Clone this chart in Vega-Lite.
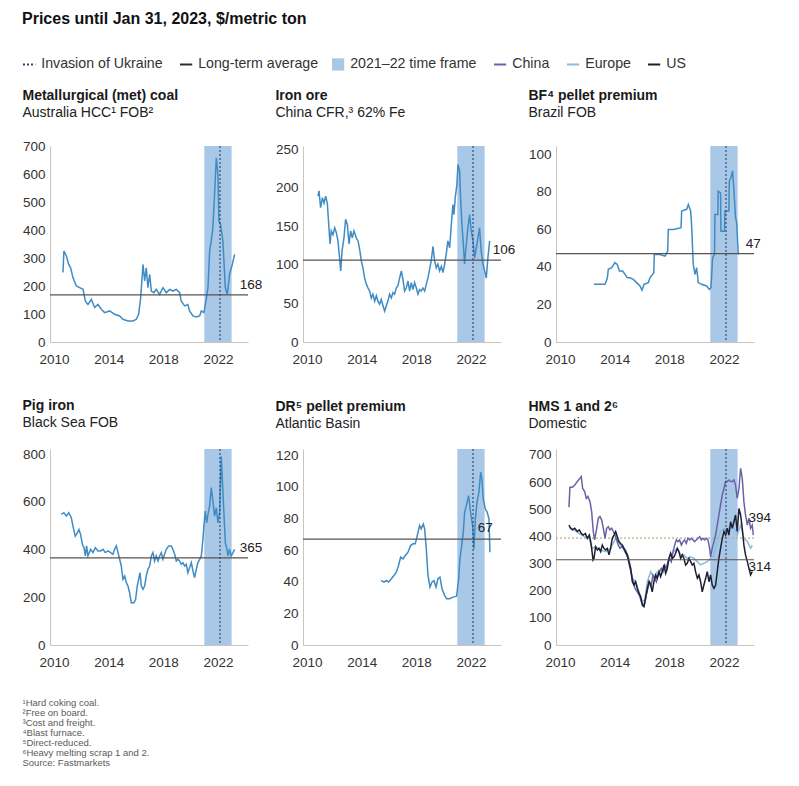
{
  "$schema": "https://vega.github.io/schema/vega-lite/v6.json",
  "padding": {"left": 22, "top": 11, "right": 8, "bottom": 6},
  "background": "white",
  "title": {
    "text": "Prices until Jan 31, 2023, $/metric ton",
    "fontSize": 16, "fontWeight": "bold", "anchor": "start", "offset": 30, "color": "#111", "font": "Liberation Sans"
  },
  "datasets": {
    "shade": [{"start": 2021, "end": 2023}],
    "inv": [{"t": 2022.15}],
    "coal": [
      {"t":2010.65,"v":248},{"t":2010.72,"v":325},{"t":2010.90,"v":307},{"t":2011.07,"v":277},{"t":2011.21,"v":265},{"t":2011.38,"v":230},{"t":2011.63,"v":200},{"t":2011.87,"v":194},{"t":2012.12,"v":188},{"t":2012.29,"v":146},{"t":2012.48,"v":134},{"t":2012.73,"v":152},{"t":2012.97,"v":123},{"t":2013.21,"v":134},{"t":2013.46,"v":117},{"t":2013.70,"v":105},{"t":2014.07,"v":111},{"t":2014.43,"v":99},{"t":2014.80,"v":93},{"t":2015.04,"v":81},{"t":2015.41,"v":75},{"t":2015.78,"v":75},{"t":2016.02,"v":81},{"t":2016.19,"v":99},{"t":2016.34,"v":158},{"t":2016.51,"v":277},{"t":2016.63,"v":218},{"t":2016.75,"v":265},{"t":2016.87,"v":194},{"t":2017.00,"v":242},{"t":2017.12,"v":182},{"t":2017.31,"v":176},{"t":2017.48,"v":188},{"t":2017.73,"v":170},{"t":2017.97,"v":194},{"t":2018.22,"v":176},{"t":2018.46,"v":188},{"t":2018.70,"v":182},{"t":2018.95,"v":188},{"t":2019.19,"v":176},{"t":2019.31,"v":146},{"t":2019.56,"v":129},{"t":2019.80,"v":134},{"t":2019.92,"v":111},{"t":2020.17,"v":93},{"t":2020.41,"v":89},{"t":2020.66,"v":93},{"t":2020.78,"v":111},{"t":2020.97,"v":105},{"t":2021.14,"v":152},{"t":2021.27,"v":194},{"t":2021.39,"v":325},{"t":2021.51,"v":361},{"t":2021.63,"v":408},{"t":2021.75,"v":527},{"t":2021.88,"v":658},{"t":2022.00,"v":598},{"t":2022.07,"v":432},{"t":2022.19,"v":420},{"t":2022.36,"v":361},{"t":2022.54,"v":194},{"t":2022.68,"v":170},{"t":2022.85,"v":242},{"t":2023.02,"v":271},{"t":2023.22,"v":313}
    ],
    "ore": [
      {"t":2010.80,"v":189},{"t":2010.87,"v":196},{"t":2010.99,"v":174},{"t":2011.12,"v":187},{"t":2011.24,"v":180},{"t":2011.36,"v":189},{"t":2011.48,"v":180},{"t":2011.60,"v":148},{"t":2011.68,"v":127},{"t":2011.77,"v":144},{"t":2011.90,"v":139},{"t":2012.02,"v":148},{"t":2012.14,"v":142},{"t":2012.26,"v":131},{"t":2012.38,"v":109},{"t":2012.46,"v":92},{"t":2012.56,"v":118},{"t":2012.70,"v":135},{"t":2012.82,"v":159},{"t":2012.95,"v":152},{"t":2013.07,"v":127},{"t":2013.19,"v":144},{"t":2013.31,"v":135},{"t":2013.43,"v":144},{"t":2013.60,"v":135},{"t":2013.73,"v":131},{"t":2013.85,"v":120},{"t":2013.97,"v":105},{"t":2014.09,"v":96},{"t":2014.21,"v":83},{"t":2014.34,"v":75},{"t":2014.46,"v":70},{"t":2014.58,"v":66},{"t":2014.70,"v":57},{"t":2014.82,"v":62},{"t":2014.95,"v":53},{"t":2015.07,"v":60},{"t":2015.19,"v":53},{"t":2015.31,"v":49},{"t":2015.43,"v":55},{"t":2015.56,"v":47},{"t":2015.68,"v":40},{"t":2015.80,"v":47},{"t":2015.92,"v":53},{"t":2016.04,"v":62},{"t":2016.17,"v":57},{"t":2016.29,"v":64},{"t":2016.41,"v":62},{"t":2016.53,"v":70},{"t":2016.65,"v":73},{"t":2016.78,"v":83},{"t":2016.90,"v":92},{"t":2017.02,"v":81},{"t":2017.14,"v":66},{"t":2017.26,"v":70},{"t":2017.39,"v":79},{"t":2017.51,"v":66},{"t":2017.63,"v":77},{"t":2017.75,"v":68},{"t":2017.87,"v":77},{"t":2018.00,"v":70},{"t":2018.12,"v":62},{"t":2018.24,"v":68},{"t":2018.36,"v":66},{"t":2018.48,"v":70},{"t":2018.61,"v":66},{"t":2018.73,"v":75},{"t":2018.85,"v":83},{"t":2018.97,"v":94},{"t":2019.09,"v":105},{"t":2019.22,"v":124},{"t":2019.34,"v":105},{"t":2019.46,"v":96},{"t":2019.58,"v":101},{"t":2019.70,"v":92},{"t":2019.83,"v":98},{"t":2019.95,"v":90},{"t":2020.07,"v":101},{"t":2020.19,"v":114},{"t":2020.31,"v":131},{"t":2020.44,"v":122},{"t":2020.56,"v":152},{"t":2020.68,"v":178},{"t":2020.75,"v":165},{"t":2020.85,"v":187},{"t":2020.97,"v":204},{"t":2021.05,"v":230},{"t":2021.17,"v":222},{"t":2021.24,"v":187},{"t":2021.34,"v":152},{"t":2021.46,"v":122},{"t":2021.53,"v":101},{"t":2021.66,"v":127},{"t":2021.78,"v":148},{"t":2021.90,"v":165},{"t":2022.02,"v":144},{"t":2022.15,"v":131},{"t":2022.27,"v":109},{"t":2022.39,"v":122},{"t":2022.51,"v":135},{"t":2022.63,"v":148},{"t":2022.75,"v":118},{"t":2022.88,"v":101},{"t":2023.00,"v":92},{"t":2023.12,"v":83},{"t":2023.24,"v":109},{"t":2023.37,"v":131}
    ],
    "bf": [
      {"t":2012.48,"v":30.7},{"t":2013.29,"v":30.7},{"t":2013.46,"v":34},{"t":2013.53,"v":38.7},{"t":2013.78,"v":39.5},{"t":2014.02,"v":42.2},{"t":2014.19,"v":41.3},{"t":2014.34,"v":37.8},{"t":2014.58,"v":37.8},{"t":2014.75,"v":36},{"t":2014.92,"v":34.2},{"t":2015.12,"v":34.2},{"t":2015.36,"v":33.3},{"t":2015.61,"v":31.6},{"t":2015.85,"v":29.8},{"t":2016.00,"v":27.5},{"t":2016.14,"v":30.7},{"t":2016.46,"v":31.6},{"t":2016.58,"v":34.2},{"t":2016.86,"v":36.9},{"t":2016.90,"v":46.6},{"t":2017.31,"v":46.6},{"t":2017.68,"v":45.7},{"t":2017.88,"v":48.4},{"t":2017.92,"v":59.9},{"t":2018.29,"v":59.9},{"t":2018.86,"v":60.8},{"t":2018.90,"v":69.7},{"t":2019.27,"v":70.6},{"t":2019.39,"v":73.2},{"t":2019.56,"v":69.7},{"t":2019.63,"v":62.6},{"t":2019.75,"v":41.3},{"t":2019.88,"v":36},{"t":2020.00,"v":39.5},{"t":2020.12,"v":31.6},{"t":2020.36,"v":30.7},{"t":2020.73,"v":29.8},{"t":2020.93,"v":28},{"t":2021.05,"v":28.9},{"t":2021.17,"v":44.9},{"t":2021.31,"v":46.6},{"t":2021.34,"v":67.9},{"t":2021.55,"v":67.9},{"t":2021.58,"v":80.3},{"t":2021.75,"v":79.4},{"t":2021.78,"v":59},{"t":2022.04,"v":59},{"t":2022.07,"v":69.7},{"t":2022.36,"v":69.7},{"t":2022.39,"v":85.6},{"t":2022.51,"v":87.4},{"t":2022.63,"v":91},{"t":2022.73,"v":80.3},{"t":2022.85,"v":66.1},{"t":2022.93,"v":63.5},{"t":2023.05,"v":46.6}
    ],
    "pig": [
      {"t":2010.53,"v":547},{"t":2010.72,"v":554},{"t":2010.90,"v":540},{"t":2011.07,"v":554},{"t":2011.26,"v":533},{"t":2011.38,"v":498},{"t":2011.55,"v":456},{"t":2011.70,"v":470},{"t":2011.82,"v":484},{"t":2011.94,"v":463},{"t":2012.07,"v":422},{"t":2012.19,"v":408},{"t":2012.29,"v":373},{"t":2012.38,"v":415},{"t":2012.48,"v":373},{"t":2012.68,"v":401},{"t":2012.85,"v":387},{"t":2013.02,"v":408},{"t":2013.21,"v":394},{"t":2013.41,"v":394},{"t":2013.58,"v":401},{"t":2013.75,"v":387},{"t":2013.95,"v":394},{"t":2014.14,"v":387},{"t":2014.31,"v":380},{"t":2014.43,"v":401},{"t":2014.56,"v":415},{"t":2014.68,"v":387},{"t":2014.80,"v":359},{"t":2014.92,"v":331},{"t":2015.04,"v":275},{"t":2015.17,"v":289},{"t":2015.29,"v":261},{"t":2015.41,"v":247},{"t":2015.53,"v":219},{"t":2015.65,"v":177},{"t":2015.85,"v":177},{"t":2015.97,"v":191},{"t":2016.09,"v":247},{"t":2016.19,"v":275},{"t":2016.29,"v":303},{"t":2016.39,"v":247},{"t":2016.51,"v":233},{"t":2016.63,"v":247},{"t":2016.75,"v":289},{"t":2016.87,"v":317},{"t":2017.00,"v":331},{"t":2017.12,"v":373},{"t":2017.24,"v":387},{"t":2017.36,"v":352},{"t":2017.48,"v":373},{"t":2017.61,"v":352},{"t":2017.73,"v":373},{"t":2017.85,"v":387},{"t":2017.97,"v":359},{"t":2018.09,"v":380},{"t":2018.22,"v":401},{"t":2018.39,"v":415},{"t":2018.58,"v":415},{"t":2018.70,"v":401},{"t":2018.83,"v":380},{"t":2018.95,"v":352},{"t":2019.07,"v":359},{"t":2019.19,"v":352},{"t":2019.31,"v":338},{"t":2019.44,"v":345},{"t":2019.56,"v":331},{"t":2019.68,"v":338},{"t":2019.80,"v":303},{"t":2019.92,"v":324},{"t":2020.05,"v":345},{"t":2020.17,"v":310},{"t":2020.29,"v":282},{"t":2020.41,"v":317},{"t":2020.53,"v":345},{"t":2020.66,"v":359},{"t":2020.78,"v":373},{"t":2020.90,"v":443},{"t":2020.97,"v":498},{"t":2021.07,"v":561},{"t":2021.17,"v":512},{"t":2021.27,"v":547},{"t":2021.39,"v":582},{"t":2021.51,"v":659},{"t":2021.63,"v":603},{"t":2021.75,"v":540},{"t":2021.88,"v":575},{"t":2022.00,"v":512},{"t":2022.12,"v":554},{"t":2022.24,"v":790},{"t":2022.41,"v":582},{"t":2022.54,"v":429},{"t":2022.66,"v":401},{"t":2022.73,"v":373},{"t":2022.85,"v":401},{"t":2022.97,"v":373},{"t":2023.10,"v":387},{"t":2023.22,"v":401}
    ],
    "dr": [
      {"t":2015.43,"v":40.8},{"t":2015.63,"v":39.8},{"t":2015.80,"v":40.8},{"t":2015.97,"v":39.8},{"t":2016.17,"v":41.9},{"t":2016.36,"v":44},{"t":2016.53,"v":46.1},{"t":2016.70,"v":50.3},{"t":2016.85,"v":55.6},{"t":2017.02,"v":54.5},{"t":2017.19,"v":56.6},{"t":2017.39,"v":58.7},{"t":2017.58,"v":62.9},{"t":2017.75,"v":64},{"t":2017.92,"v":64},{"t":2018.07,"v":69.3},{"t":2018.24,"v":75.6},{"t":2018.36,"v":73.5},{"t":2018.51,"v":76.6},{"t":2018.61,"v":73.5},{"t":2018.73,"v":60.8},{"t":2018.85,"v":44},{"t":2019.00,"v":36.6},{"t":2019.14,"v":39.8},{"t":2019.29,"v":40.8},{"t":2019.44,"v":36.6},{"t":2019.58,"v":41.9},{"t":2019.73,"v":42.9},{"t":2019.88,"v":35.6},{"t":2020.07,"v":31.4},{"t":2020.22,"v":29.3},{"t":2020.44,"v":29.3},{"t":2020.68,"v":30.3},{"t":2020.95,"v":30.9},{"t":2021.10,"v":41.9},{"t":2021.19,"v":54.5},{"t":2021.29,"v":60.8},{"t":2021.44,"v":71.4},{"t":2021.54,"v":84},{"t":2021.66,"v":88.2},{"t":2021.83,"v":94.5},{"t":2021.97,"v":84},{"t":2022.12,"v":75.6},{"t":2022.22,"v":60.8},{"t":2022.32,"v":79.8},{"t":2022.44,"v":90.3},{"t":2022.58,"v":96.6},{"t":2022.71,"v":109.3},{"t":2022.80,"v":105},{"t":2022.90,"v":92.4},{"t":2023.05,"v":86.1},{"t":2023.19,"v":84},{"t":2023.32,"v":79.8},{"t":2023.39,"v":58.7}
    ],
    "hms": [
      {"series":"Europe","t":2010.65,"v":436},{"series":"Europe","t":2011.02,"v":424},{"series":"Europe","t":2011.38,"v":411},{"series":"Europe","t":2011.75,"v":399},{"series":"Europe","t":2012.12,"v":393},{"series":"Europe","t":2012.36,"v":356},{"series":"Europe","t":2012.60,"v":362},{"series":"Europe","t":2012.97,"v":350},{"series":"Europe","t":2013.34,"v":344},{"series":"Europe","t":2013.70,"v":356},{"series":"Europe","t":2014.07,"v":393},{"series":"Europe","t":2014.43,"v":368},{"series":"Europe","t":2014.80,"v":350},{"series":"Europe","t":2015.04,"v":319},{"series":"Europe","t":2015.29,"v":246},{"series":"Europe","t":2015.53,"v":233},{"series":"Europe","t":2015.78,"v":196},{"series":"Europe","t":2016.02,"v":160},{"series":"Europe","t":2016.19,"v":166},{"series":"Europe","t":2016.39,"v":233},{"series":"Europe","t":2016.63,"v":270},{"series":"Europe","t":2016.87,"v":246},{"series":"Europe","t":2017.12,"v":270},{"series":"Europe","t":2017.36,"v":258},{"series":"Europe","t":2017.61,"v":282},{"series":"Europe","t":2017.85,"v":295},{"series":"Europe","t":2018.09,"v":332},{"series":"Europe","t":2018.34,"v":344},{"series":"Europe","t":2018.58,"v":356},{"series":"Europe","t":2018.83,"v":332},{"series":"Europe","t":2019.07,"v":332},{"series":"Europe","t":2019.31,"v":319},{"series":"Europe","t":2019.56,"v":325},{"series":"Europe","t":2019.80,"v":319},{"series":"Europe","t":2020.05,"v":307},{"series":"Europe","t":2020.29,"v":295},{"series":"Europe","t":2020.53,"v":301},{"series":"Europe","t":2020.78,"v":307},{"series":"Europe","t":2021.02,"v":319},{"series":"Europe","t":2021.27,"v":332},{"series":"Europe","t":2021.51,"v":381},{"series":"Europe","t":2021.75,"v":418},{"series":"Europe","t":2022.00,"v":430},{"series":"Europe","t":2022.24,"v":418},{"series":"Europe","t":2022.49,"v":442},{"series":"Europe","t":2022.73,"v":430},{"series":"Europe","t":2022.97,"v":405},{"series":"Europe","t":2023.22,"v":442},{"series":"Europe","t":2023.46,"v":393},{"series":"Europe","t":2023.71,"v":381},{"series":"Europe","t":2023.95,"v":356},{"series":"Europe","t":2024.07,"v":368},
      {"series":"China","t":2010.65,"v":508},{"series":"China","t":2010.72,"v":581},{"series":"China","t":2010.90,"v":581},{"series":"China","t":2011.07,"v":589},{"series":"China","t":2011.26,"v":602},{"series":"China","t":2011.46,"v":614},{"series":"China","t":2011.55,"v":620},{"series":"China","t":2011.65,"v":577},{"series":"China","t":2011.80,"v":565},{"series":"China","t":2011.92,"v":540},{"series":"China","t":2012.04,"v":547},{"series":"China","t":2012.19,"v":528},{"series":"China","t":2012.31,"v":491},{"series":"China","t":2012.43,"v":418},{"series":"China","t":2012.53,"v":387},{"series":"China","t":2012.68,"v":430},{"series":"China","t":2012.80,"v":467},{"series":"China","t":2012.92,"v":473},{"series":"China","t":2013.04,"v":461},{"series":"China","t":2013.17,"v":430},{"series":"China","t":2013.29,"v":393},{"series":"China","t":2013.41,"v":430},{"series":"China","t":2013.53,"v":436},{"series":"China","t":2013.65,"v":424},{"series":"China","t":2013.78,"v":430},{"series":"China","t":2013.90,"v":418},{"series":"China","t":2014.02,"v":405},{"series":"China","t":2014.14,"v":387},{"series":"China","t":2014.26,"v":368},{"series":"China","t":2014.39,"v":356},{"series":"China","t":2014.51,"v":362},{"series":"China","t":2014.63,"v":356},{"series":"China","t":2014.75,"v":344},{"series":"China","t":2014.87,"v":332},{"series":"China","t":2014.97,"v":319},{"series":"China","t":2015.12,"v":282},{"series":"China","t":2015.24,"v":258},{"series":"China","t":2015.36,"v":233},{"series":"China","t":2015.48,"v":209},{"series":"China","t":2015.65,"v":196},{"series":"China","t":2015.80,"v":184},{"series":"China","t":2015.95,"v":160},{"series":"China","t":2016.07,"v":147},{"series":"China","t":2016.19,"v":153},{"series":"China","t":2016.31,"v":184},{"series":"China","t":2016.43,"v":209},{"series":"China","t":2016.56,"v":233},{"series":"China","t":2016.68,"v":221},{"series":"China","t":2016.80,"v":258},{"series":"China","t":2016.92,"v":246},{"series":"China","t":2017.05,"v":233},{"series":"China","t":2017.17,"v":258},{"series":"China","t":2017.29,"v":270},{"series":"China","t":2017.41,"v":282},{"series":"China","t":2017.53,"v":270},{"series":"China","t":2017.65,"v":295},{"series":"China","t":2017.78,"v":282},{"series":"China","t":2017.90,"v":307},{"series":"China","t":2018.02,"v":319},{"series":"China","t":2018.14,"v":307},{"series":"China","t":2018.27,"v":344},{"series":"China","t":2018.39,"v":368},{"series":"China","t":2018.51,"v":387},{"series":"China","t":2018.63,"v":381},{"series":"China","t":2018.75,"v":387},{"series":"China","t":2018.88,"v":368},{"series":"China","t":2019.00,"v":381},{"series":"China","t":2019.12,"v":387},{"series":"China","t":2019.24,"v":374},{"series":"China","t":2019.36,"v":393},{"series":"China","t":2019.49,"v":387},{"series":"China","t":2019.61,"v":393},{"series":"China","t":2019.73,"v":387},{"series":"China","t":2019.85,"v":381},{"series":"China","t":2019.97,"v":387},{"series":"China","t":2020.10,"v":393},{"series":"China","t":2020.22,"v":399},{"series":"China","t":2020.34,"v":387},{"series":"China","t":2020.46,"v":393},{"series":"China","t":2020.58,"v":387},{"series":"China","t":2020.71,"v":393},{"series":"China","t":2020.83,"v":387},{"series":"China","t":2020.95,"v":356},{"series":"China","t":2021.02,"v":325},{"series":"China","t":2021.14,"v":356},{"series":"China","t":2021.27,"v":381},{"series":"China","t":2021.39,"v":405},{"series":"China","t":2021.51,"v":442},{"series":"China","t":2021.63,"v":479},{"series":"China","t":2021.75,"v":516},{"series":"China","t":2021.88,"v":553},{"series":"China","t":2022.00,"v":577},{"series":"China","t":2022.12,"v":602},{"series":"China","t":2022.24,"v":602},{"series":"China","t":2022.36,"v":608},{"series":"China","t":2022.49,"v":602},{"series":"China","t":2022.61,"v":602},{"series":"China","t":2022.73,"v":608},{"series":"China","t":2022.85,"v":589},{"series":"China","t":2022.97,"v":540},{"series":"China","t":2023.10,"v":577},{"series":"China","t":2023.22,"v":651},{"series":"China","t":2023.34,"v":614},{"series":"China","t":2023.46,"v":528},{"series":"China","t":2023.58,"v":479},{"series":"China","t":2023.71,"v":442},{"series":"China","t":2023.83,"v":467},{"series":"China","t":2023.95,"v":430},{"series":"China","t":2024.07,"v":442},{"series":"China","t":2024.15,"v":405},
      {"series":"US","t":2010.65,"v":442},{"series":"US","t":2010.77,"v":430},{"series":"US","t":2010.90,"v":424},{"series":"US","t":2011.07,"v":430},{"series":"US","t":2011.26,"v":418},{"series":"US","t":2011.41,"v":424},{"series":"US","t":2011.55,"v":411},{"series":"US","t":2011.70,"v":405},{"series":"US","t":2011.85,"v":411},{"series":"US","t":2011.99,"v":393},{"series":"US","t":2012.14,"v":405},{"series":"US","t":2012.24,"v":381},{"series":"US","t":2012.34,"v":344},{"series":"US","t":2012.41,"v":313},{"series":"US","t":2012.48,"v":319},{"series":"US","t":2012.60,"v":362},{"series":"US","t":2012.73,"v":350},{"series":"US","t":2012.85,"v":356},{"series":"US","t":2012.97,"v":344},{"series":"US","t":2013.09,"v":368},{"series":"US","t":2013.21,"v":356},{"series":"US","t":2013.34,"v":350},{"series":"US","t":2013.46,"v":356},{"series":"US","t":2013.58,"v":332},{"series":"US","t":2013.70,"v":356},{"series":"US","t":2013.82,"v":393},{"series":"US","t":2013.95,"v":405},{"series":"US","t":2014.07,"v":418},{"series":"US","t":2014.19,"v":399},{"series":"US","t":2014.31,"v":381},{"series":"US","t":2014.43,"v":374},{"series":"US","t":2014.56,"v":368},{"series":"US","t":2014.68,"v":356},{"series":"US","t":2014.80,"v":344},{"series":"US","t":2014.92,"v":332},{"series":"US","t":2015.04,"v":307},{"series":"US","t":2015.17,"v":282},{"series":"US","t":2015.29,"v":233},{"series":"US","t":2015.41,"v":221},{"series":"US","t":2015.53,"v":233},{"series":"US","t":2015.65,"v":209},{"series":"US","t":2015.78,"v":190},{"series":"US","t":2015.90,"v":178},{"series":"US","t":2016.02,"v":147},{"series":"US","t":2016.14,"v":141},{"series":"US","t":2016.26,"v":172},{"series":"US","t":2016.39,"v":209},{"series":"US","t":2016.51,"v":233},{"series":"US","t":2016.63,"v":221},{"series":"US","t":2016.75,"v":196},{"series":"US","t":2016.87,"v":233},{"series":"US","t":2017.00,"v":258},{"series":"US","t":2017.12,"v":246},{"series":"US","t":2017.24,"v":270},{"series":"US","t":2017.36,"v":252},{"series":"US","t":2017.48,"v":270},{"series":"US","t":2017.61,"v":295},{"series":"US","t":2017.73,"v":264},{"series":"US","t":2017.85,"v":282},{"series":"US","t":2017.97,"v":319},{"series":"US","t":2018.09,"v":338},{"series":"US","t":2018.22,"v":319},{"series":"US","t":2018.34,"v":325},{"series":"US","t":2018.46,"v":338},{"series":"US","t":2018.58,"v":356},{"series":"US","t":2018.70,"v":344},{"series":"US","t":2018.83,"v":319},{"series":"US","t":2018.95,"v":332},{"series":"US","t":2019.07,"v":319},{"series":"US","t":2019.19,"v":295},{"series":"US","t":2019.31,"v":301},{"series":"US","t":2019.44,"v":319},{"series":"US","t":2019.56,"v":307},{"series":"US","t":2019.68,"v":295},{"series":"US","t":2019.80,"v":301},{"series":"US","t":2019.92,"v":270},{"series":"US","t":2020.05,"v":246},{"series":"US","t":2020.17,"v":258},{"series":"US","t":2020.29,"v":233},{"series":"US","t":2020.41,"v":196},{"series":"US","t":2020.53,"v":221},{"series":"US","t":2020.66,"v":246},{"series":"US","t":2020.78,"v":270},{"series":"US","t":2020.90,"v":233},{"series":"US","t":2021.02,"v":258},{"series":"US","t":2021.14,"v":221},{"series":"US","t":2021.27,"v":209},{"series":"US","t":2021.39,"v":221},{"series":"US","t":2021.51,"v":270},{"series":"US","t":2021.63,"v":319},{"series":"US","t":2021.75,"v":356},{"series":"US","t":2021.88,"v":393},{"series":"US","t":2022.00,"v":418},{"series":"US","t":2022.12,"v":405},{"series":"US","t":2022.24,"v":430},{"series":"US","t":2022.36,"v":405},{"series":"US","t":2022.49,"v":454},{"series":"US","t":2022.61,"v":430},{"series":"US","t":2022.73,"v":454},{"series":"US","t":2022.85,"v":479},{"series":"US","t":2022.97,"v":418},{"series":"US","t":2023.10,"v":503},{"series":"US","t":2023.22,"v":479},{"series":"US","t":2023.34,"v":430},{"series":"US","t":2023.46,"v":368},{"series":"US","t":2023.58,"v":332},{"series":"US","t":2023.71,"v":307},{"series":"US","t":2023.83,"v":282},{"series":"US","t":2023.95,"v":258},{"series":"US","t":2024.07,"v":270}
    ]
  },
  "vconcat": [
    {
      "columns": 3,
      "bounds": "flush",
      "spacing": {"row": 107, "column": 55},
      "title": {
        "text": ["\u00b9Hard coking coal.", "\u00b2Free on board.", "\u00b3Cost and freight.", "\u2074Blast furnace.", "\u2075Direct-reduced.", "\u2076Heavy melting scrap 1 and 2.", "\u00a0Source: Fastmarkets"],
        "orient": "bottom", "anchor": "start", "fontSize": 9.5, "fontWeight": "normal", "color": "#5a5a5a", "lineHeight": 10, "offset": 29
      },
      "concat": [
        {
          "width": 198, "height": 196,
          "title": {"text": "Metallurgical (met) coal", "subtitle": "Australia HCC\u00b9 FOB\u00b2", "offset": 19},
          "layer": [
            {"data": {"name": "shade"}, "mark": {"type": "rect", "color": "#a9c8e7"},
             "encoding": {"x": {"field": "start", "type": "quantitative", "title": null, "scale": {"domain": [2009.7, 2024.2], "nice": false, "zero": false}, "axis": {"values": [2010, 2014, 2018, 2022], "format": "d"}}, "x2": {"field": "end"}}},
            {"data": {"name": "coal"}, "mark": {"type": "line", "color": "#3f8cc4", "strokeWidth": 1.5},
             "encoding": {"x": {"field": "t", "type": "quantitative", "title": null, "axis": {"values": [2010, 2014, 2018, 2022], "format": "d"}}, "y": {"field": "v", "type": "quantitative", "title": null, "scale": {"domain": [0, 700], "nice": false}, "axis": {"values": [0, 100, 200, 300, 400, 500, 600, 700]}}}},
            {"data": {"values": [{"v": 168}]}, "mark": {"type": "rule", "color": "#5a524c", "strokeWidth": 1.2}, "encoding": {"y": {"field": "v", "type": "quantitative", "title": null, "axis": {"values": [0, 100, 200, 300, 400, 500, 600, 700]}}}},
            {"data": {"name": "inv"}, "mark": {"type": "rule", "color": "#26406e", "strokeDash": [2, 2], "strokeWidth": 1.1}, "encoding": {"x": {"field": "t", "type": "quantitative", "title": null, "axis": {"values": [2010, 2014, 2018, 2022], "format": "d"}}}},
            {"data": {"values": [{"v": 168}]}, "mark": {"type": "text", "align": "left", "baseline": "bottom", "dy": -3, "fontSize": 13.5, "color": "#222"},
             "encoding": {"x": {"datum": 2023.6, "type": "quantitative", "axis": {"values": [2010, 2014, 2018, 2022], "format": "d"}}, "y": {"field": "v", "type": "quantitative", "title": null, "axis": {"values": [0, 100, 200, 300, 400, 500, 600, 700]}}, "text": {"field": "v"}}}
          ]
        },
        {
          "width": 198, "height": 196,
          "title": {"text": "Iron ore", "subtitle": "China CFR,\u00b3 62% Fe", "offset": 22},
          "layer": [
            {"data": {"name": "shade"}, "mark": {"type": "rect", "color": "#a9c8e7"},
             "encoding": {"x": {"field": "start", "type": "quantitative", "title": null, "scale": {"domain": [2009.7, 2024.2], "nice": false, "zero": false}, "axis": {"values": [2010, 2014, 2018, 2022], "format": "d"}}, "x2": {"field": "end"}}},
            {"data": {"name": "ore"}, "mark": {"type": "line", "color": "#3f8cc4", "strokeWidth": 1.5},
             "encoding": {"x": {"field": "t", "type": "quantitative", "title": null, "axis": {"values": [2010, 2014, 2018, 2022], "format": "d"}}, "y": {"field": "v", "type": "quantitative", "title": null, "scale": {"domain": [0, 254], "nice": false}, "axis": {"values": [0, 50, 100, 150, 200, 250]}}}},
            {"data": {"values": [{"v": 106}]}, "mark": {"type": "rule", "color": "#5a524c", "strokeWidth": 1.2}, "encoding": {"y": {"field": "v", "type": "quantitative", "title": null, "axis": {"values": [0, 50, 100, 150, 200, 250]}}}},
            {"data": {"name": "inv"}, "mark": {"type": "rule", "color": "#26406e", "strokeDash": [2, 2], "strokeWidth": 1.1}, "encoding": {"x": {"field": "t", "type": "quantitative", "title": null, "axis": {"values": [2010, 2014, 2018, 2022], "format": "d"}}}},
            {"data": {"values": [{"v": 106}]}, "mark": {"type": "text", "align": "left", "baseline": "bottom", "dy": -3, "fontSize": 13.5, "color": "#222"},
             "encoding": {"x": {"datum": 2023.6, "type": "quantitative", "axis": {"values": [2010, 2014, 2018, 2022], "format": "d"}}, "y": {"field": "v", "type": "quantitative", "title": null, "axis": {"values": [0, 50, 100, 150, 200, 250]}}, "text": {"field": "v"}}}
          ]
        },
        {
          "width": 198, "height": 196,
          "title": {"text": "BF\u2074 pellet premium", "subtitle": "Brazil FOB", "offset": 25},
          "layer": [
            {"data": {"name": "shade"}, "mark": {"type": "rect", "color": "#a9c8e7"},
             "encoding": {"x": {"field": "start", "type": "quantitative", "title": null, "scale": {"domain": [2009.7, 2024.2], "nice": false, "zero": false}, "axis": {"values": [2010, 2014, 2018, 2022], "format": "d"}}, "x2": {"field": "end"}}},
            {"data": {"name": "bf"}, "mark": {"type": "line", "color": "#3f8cc4", "strokeWidth": 1.5},
             "encoding": {"x": {"field": "t", "type": "quantitative", "title": null, "axis": {"values": [2010, 2014, 2018, 2022], "format": "d"}}, "y": {"field": "v", "type": "quantitative", "title": null, "scale": {"domain": [0, 104.3], "nice": false}, "axis": {"values": [0, 20, 40, 60, 80, 100]}}}},
            {"data": {"values": [{"v": 47}]}, "mark": {"type": "rule", "color": "#5a524c", "strokeWidth": 1.2}, "encoding": {"y": {"field": "v", "type": "quantitative", "title": null, "axis": {"values": [0, 20, 40, 60, 80, 100]}}}},
            {"data": {"name": "inv"}, "mark": {"type": "rule", "color": "#26406e", "strokeDash": [2, 2], "strokeWidth": 1.1}, "encoding": {"x": {"field": "t", "type": "quantitative", "title": null, "axis": {"values": [2010, 2014, 2018, 2022], "format": "d"}}}},
            {"data": {"values": [{"v": 47}]}, "mark": {"type": "text", "align": "left", "baseline": "bottom", "dy": -3, "fontSize": 13.5, "color": "#222"},
             "encoding": {"x": {"datum": 2023.6, "type": "quantitative", "axis": {"values": [2010, 2014, 2018, 2022], "format": "d"}}, "y": {"field": "v", "type": "quantitative", "title": null, "axis": {"values": [0, 20, 40, 60, 80, 100]}}, "text": {"field": "v"}}}
          ]
        },
        {
          "width": 198, "height": 196,
          "title": {"text": "Pig iron", "subtitle": "Black Sea FOB", "offset": 17},
          "layer": [
            {"data": {"name": "shade"}, "mark": {"type": "rect", "color": "#a9c8e7"},
             "encoding": {"x": {"field": "start", "type": "quantitative", "title": null, "scale": {"domain": [2009.7, 2024.2], "nice": false, "zero": false}, "axis": {"values": [2010, 2014, 2018, 2022], "format": "d"}}, "x2": {"field": "end"}}},
            {"data": {"name": "pig"}, "mark": {"type": "line", "color": "#3f8cc4", "strokeWidth": 1.5},
             "encoding": {"x": {"field": "t", "type": "quantitative", "title": null, "axis": {"values": [2010, 2014, 2018, 2022], "format": "d"}}, "y": {"field": "v", "type": "quantitative", "title": null, "scale": {"domain": [0, 821], "nice": false}, "axis": {"values": [0, 200, 400, 600, 800]}}}},
            {"data": {"values": [{"v": 365}]}, "mark": {"type": "rule", "color": "#5a524c", "strokeWidth": 1.2}, "encoding": {"y": {"field": "v", "type": "quantitative", "title": null, "axis": {"values": [0, 200, 400, 600, 800]}}}},
            {"data": {"name": "inv"}, "mark": {"type": "rule", "color": "#26406e", "strokeDash": [2, 2], "strokeWidth": 1.1}, "encoding": {"x": {"field": "t", "type": "quantitative", "title": null, "axis": {"values": [2010, 2014, 2018, 2022], "format": "d"}}}},
            {"data": {"values": [{"v": 365}]}, "mark": {"type": "text", "align": "left", "baseline": "bottom", "dy": -3, "fontSize": 13.5, "color": "#222"},
             "encoding": {"x": {"datum": 2023.6, "type": "quantitative", "axis": {"values": [2010, 2014, 2018, 2022], "format": "d"}}, "y": {"field": "v", "type": "quantitative", "title": null, "axis": {"values": [0, 200, 400, 600, 800]}}, "text": {"field": "v"}}}
          ]
        },
        {
          "width": 198, "height": 196,
          "title": {"text": "DR\u2075 pellet premium", "subtitle": "Atlantic Basin", "offset": 17},
          "layer": [
            {"data": {"name": "shade"}, "mark": {"type": "rect", "color": "#a9c8e7"},
             "encoding": {"x": {"field": "start", "type": "quantitative", "title": null, "scale": {"domain": [2009.7, 2024.2], "nice": false, "zero": false}, "axis": {"values": [2010, 2014, 2018, 2022], "format": "d"}}, "x2": {"field": "end"}}},
            {"data": {"name": "dr"}, "mark": {"type": "line", "color": "#3f8cc4", "strokeWidth": 1.5},
             "encoding": {"x": {"field": "t", "type": "quantitative", "title": null, "axis": {"values": [2010, 2014, 2018, 2022], "format": "d"}}, "y": {"field": "v", "type": "quantitative", "title": null, "scale": {"domain": [0, 124], "nice": false}, "axis": {"values": [0, 20, 40, 60, 80, 100, 120]}}}},
            {"data": {"values": [{"v": 67}]}, "mark": {"type": "rule", "color": "#5a524c", "strokeWidth": 1.2}, "encoding": {"y": {"field": "v", "type": "quantitative", "title": null, "axis": {"values": [0, 20, 40, 60, 80, 100, 120]}}}},
            {"data": {"name": "inv"}, "mark": {"type": "rule", "color": "#26406e", "strokeDash": [2, 2], "strokeWidth": 1.1}, "encoding": {"x": {"field": "t", "type": "quantitative", "title": null, "axis": {"values": [2010, 2014, 2018, 2022], "format": "d"}}}},
            {"data": {"values": [{"v": 67}]}, "mark": {"type": "text", "align": "left", "baseline": "bottom", "dy": -4, "fontSize": 13.5, "color": "#222"},
             "encoding": {"x": {"datum": 2022.5, "type": "quantitative", "axis": {"values": [2010, 2014, 2018, 2022], "format": "d"}}, "y": {"field": "v", "type": "quantitative", "title": null, "axis": {"values": [0, 20, 40, 60, 80, 100, 120]}}, "text": {"field": "v"}}}
          ]
        },
        {
          "width": 198, "height": 196,
          "title": {"text": "HMS 1 and 2\u2076", "subtitle": "Domestic", "offset": 17},
          "layer": [
            {"data": {"name": "shade"}, "mark": {"type": "rect", "color": "#a9c8e7"},
             "encoding": {"x": {"field": "start", "type": "quantitative", "title": null, "scale": {"domain": [2009.7, 2024.2], "nice": false, "zero": false}, "axis": {"values": [2010, 2014, 2018, 2022], "format": "d"}}, "x2": {"field": "end"}}},
            {"data": {"values": [{"v": 394}]}, "mark": {"type": "rule", "color": "#c2ab8b", "strokeDash": [2, 2], "strokeWidth": 1.2}, "encoding": {"y": {"field": "v", "type": "quantitative", "title": null, "axis": {"values": [0, 100, 200, 300, 400, 500, 600, 700]}}}},
            {"data": {"name": "hms"}, "mark": {"type": "line", "strokeWidth": 1.5, "clip": true},
             "encoding": {
               "x": {"field": "t", "type": "quantitative", "title": null, "axis": {"values": [2010, 2014, 2018, 2022], "format": "d"}},
               "y": {"field": "v", "type": "quantitative", "title": null, "scale": {"domain": [0, 722], "nice": false}, "axis": {"values": [0, 100, 200, 300, 400, 500, 600, 700]}},
               "color": {"field": "series", "type": "nominal",
                 "scale": {"domain": ["Invasion of Ukraine", "Long-term average", "2021\u201322 time frame", "China", "Europe", "US"], "range": ["#26406e", "#2e2e2e", "#a9c8e7", "#6a62a6", "#8fbbdc", "#1d2030"]},
                 "legend": {
                   "title": null, "orient": "none", "legendX": -28, "legendY": -89, "direction": "horizontal",
                   "labelFontSize": 14.2, "labelColor": "#333", "labelFont": "Liberation Sans",
                   "symbolType": "stroke", "symbolSize": 150, "symbolStrokeWidth": 2,
                   "columnPadding": 12, "labelOffset": 5,
                   "encode": {"symbols": {"update": {
                     "shape": {"signal": "datum.value === '2021\u201322 time frame' ? 'square' : 'stroke'"},
                     "fill": {"signal": "datum.value === '2021\u201322 time frame' ? '#a9c8e7' : 'transparent'"},
                     "strokeDash": {"signal": "datum.value === 'Invasion of Ukraine' ? [2, 2] : [1, 0]"},
                     "strokeWidth": {"signal": "datum.value === '2021\u201322 time frame' ? 0 : 2"}
                   }}}
                 }}
             }},
            {"data": {"values": [{"v": 314}]}, "mark": {"type": "rule", "color": "#5a524c", "strokeWidth": 1.2}, "encoding": {"y": {"field": "v", "type": "quantitative", "title": null, "axis": {"values": [0, 100, 200, 300, 400, 500, 600, 700]}}}},
            {"data": {"name": "inv"}, "mark": {"type": "rule", "color": "#26406e", "strokeDash": [2, 2], "strokeWidth": 1.1}, "encoding": {"x": {"field": "t", "type": "quantitative", "title": null, "axis": {"values": [2010, 2014, 2018, 2022], "format": "d"}}}},
            {"data": {"values": [{"v": 394}]}, "mark": {"type": "text", "align": "left", "baseline": "bottom", "dy": -13, "fontSize": 13.5, "color": "#222"},
             "encoding": {"x": {"datum": 2023.8, "type": "quantitative", "axis": {"values": [2010, 2014, 2018, 2022], "format": "d"}}, "y": {"field": "v", "type": "quantitative", "title": null, "axis": {"values": [0, 100, 200, 300, 400, 500, 600, 700]}}, "text": {"field": "v"}}},
            {"data": {"values": [{"v": 314}]}, "mark": {"type": "text", "align": "left", "baseline": "top", "dy": 0, "fontSize": 13.5, "color": "#222"},
             "encoding": {"x": {"datum": 2023.8, "type": "quantitative", "axis": {"values": [2010, 2014, 2018, 2022], "format": "d"}}, "y": {"field": "v", "type": "quantitative", "title": null, "axis": {"values": [0, 100, 200, 300, 400, 500, 600, 700]}}, "text": {"field": "v"}}}
          ]
        }
      ]
    }
  ],
  "config": {
    "view": {"stroke": null},
    "font": "Liberation Sans",
    "axis": {"grid": false, "ticks": false, "domainColor": "#cdc3b8", "domainWidth": 1, "labelColor": "#333", "labelFontSize": 13.5, "labelFont": "Liberation Sans", "labelOverlap": false},
    "axisX": {"labelPadding": 10, "labelFlush": false},
    "axisY": {"labelPadding": 5},
    "title": {"anchor": "start", "fontSize": 14, "fontWeight": "bold", "subtitleFontSize": 14, "color": "#1a1a1a", "subtitleColor": "#222", "offset": 24, "subtitlePadding": 3, "font": "Liberation Sans", "subtitleFont": "Liberation Sans"}
  }
}
